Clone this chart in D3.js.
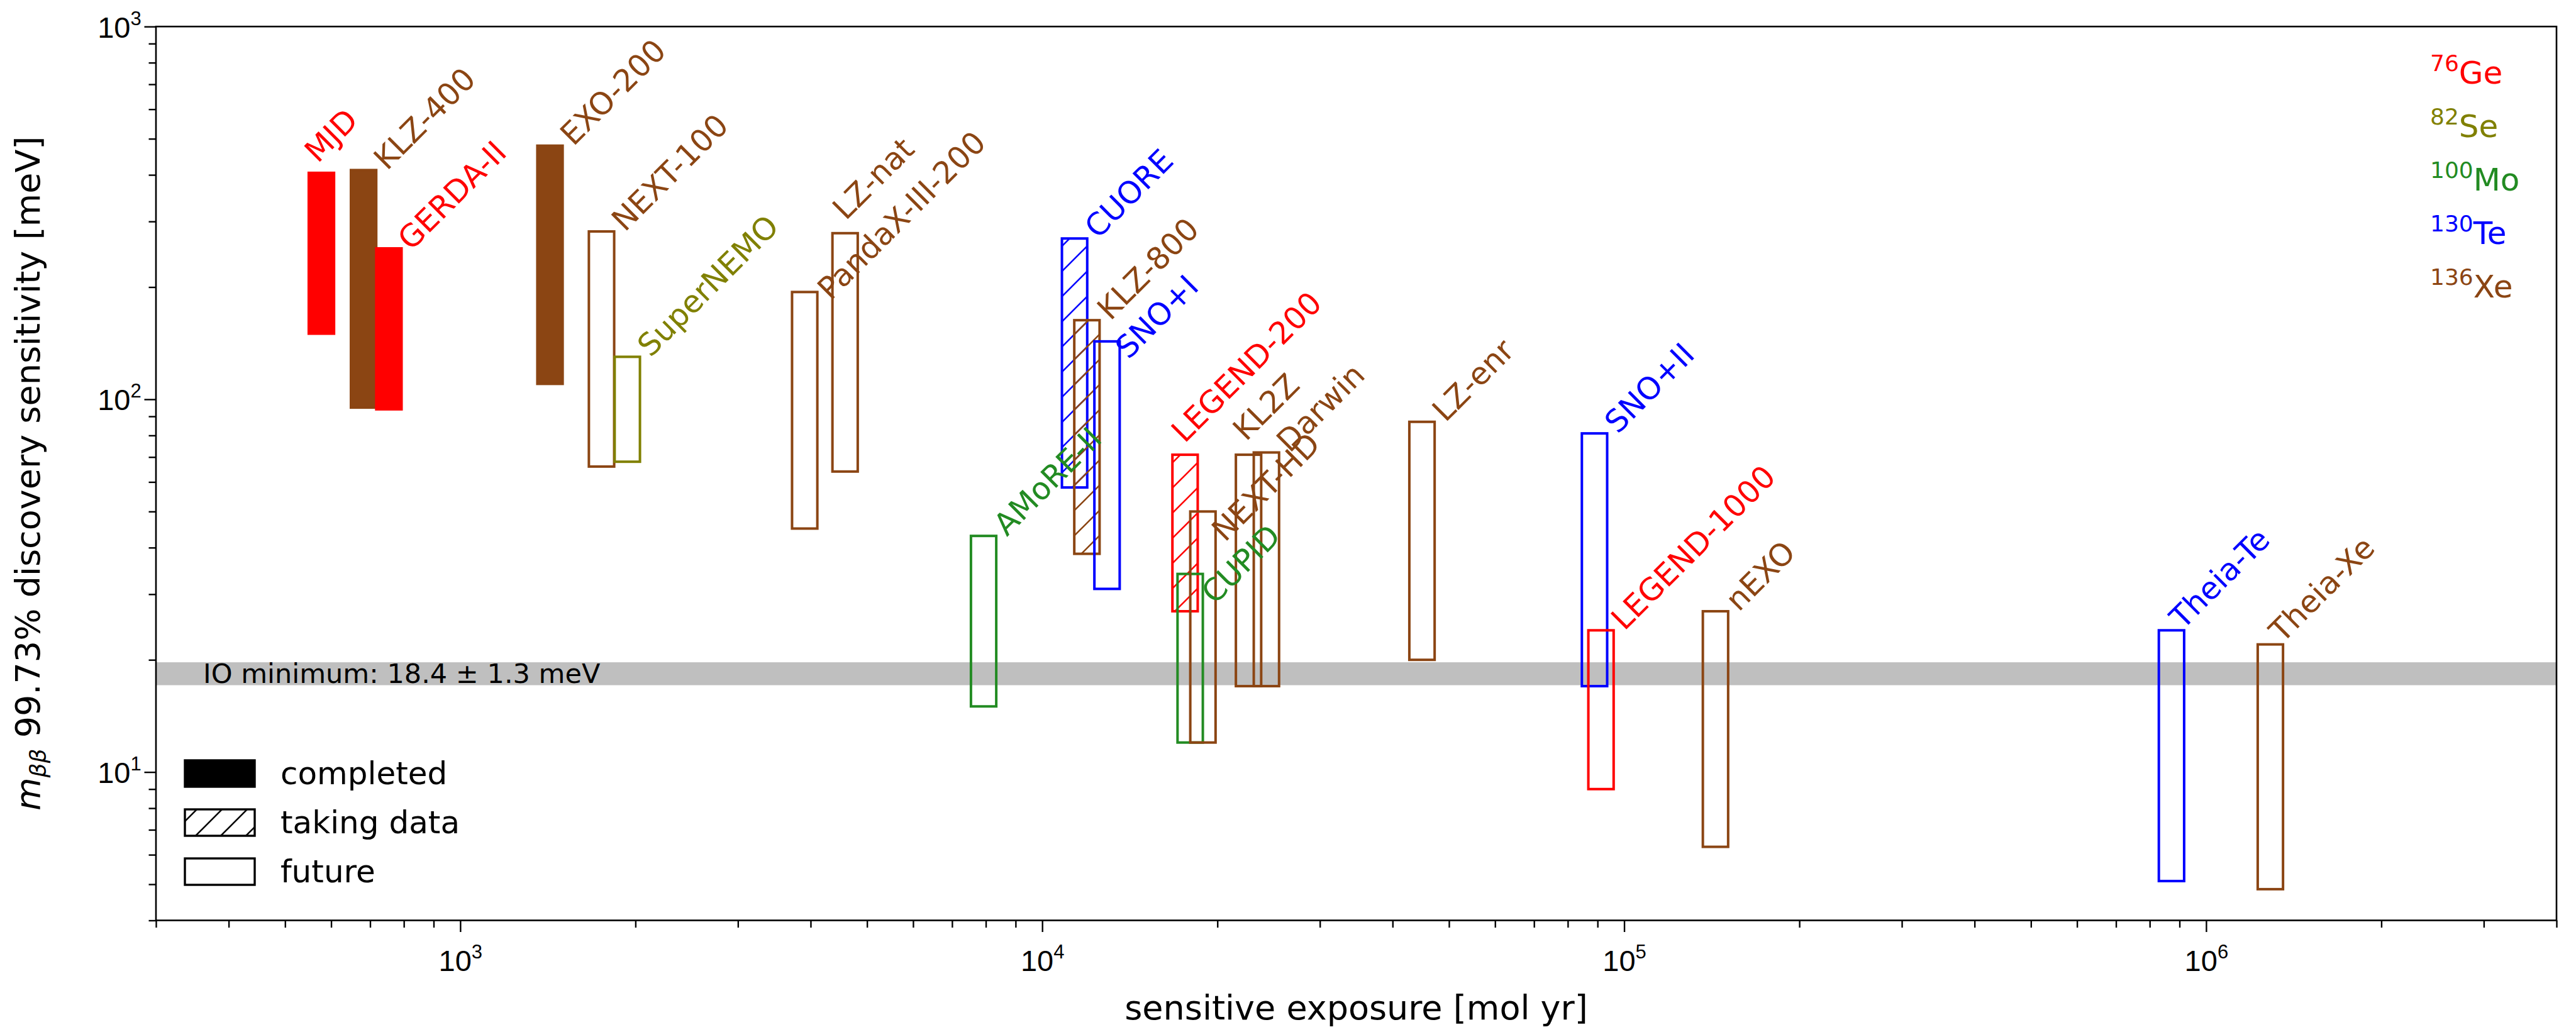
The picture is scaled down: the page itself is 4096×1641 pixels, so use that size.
<!DOCTYPE html>
<html><head><meta charset="utf-8">
<script src="https://cdn.jsdelivr.net/npm/d3@7"></script>
<style>html,body{margin:0;padding:0;background:#fff}svg{display:block}</style>
</head><body>
<script>
// ---------------- data ----------------
const experiments = ["MJD","KLZ-400","GERDA-II","EXO-200","NEXT-100","SuperNEMO","PandaX-III-200","LZ-nat",
  "CUORE","KLZ-800","SNO+I","AMoRE-II","LEGEND-200","CUPID","NEXT-HD","KL2Z","Darwin","LZ-enr",
  "SNO+II","LEGEND-1000","nEXO","Theia-Te","Theia-Xe"];
const isotopeOf = ["Ge","Xe","Ge","Xe","Xe","Se","Xe","Xe","Te","Xe","Te","Mo","Ge","Mo","Xe","Xe","Xe","Xe",
  "Te","Ge","Xe","Te","Xe"];
const status = ["completed","completed","completed","completed","future","future","future","future",
  "taking data","taking data","future","future","taking data","future","future","future","future","future",
  "future","future","future","future","future"];
const exposure = [578, 683, 755, 1428, 1751, 1939, 3912, 4590, 11380, 11950, 12940, 7940, 17620, 17980, 18910,
  22650, 24310, 44990, 89040, 91350, 143700, 873000, 1291000];
const sensLow  = [150, 95, 94, 110, 66, 68, 45, 64, 58, 38.5, 31, 15, 27, 12, 12, 17, 17, 20, 17, 9, 6.3, 5.1, 4.85];
const sensHigh = [405, 412, 254, 479, 282, 130, 194, 279, 270, 163, 143, 43, 71, 34, 50, 71, 72, 87, 81, 24, 27, 24, 22];

const isotopes = ["Ge","Se","Mo","Te","Xe"];
const isotopeMass = ["76","82","100","130","136"];
const statusNames = ["completed","taking data","future"];
const ioMinimum = 18.4, ioError = 1.3;
const ioText = "IO minimum: 18.4 \u00b1 1.3 meV";
const xMajorTicks = [1e3, 1e4, 1e5, 1e6];
const xTickExponents = ["3","4","5","6"];
const yMajorTicks = [10, 100, 1000];
const yTickExponents = ["1","2","3"];
const xDomain = [300, 4e6];
const yDomain = [4, 1000];

// ---------------- styles ----------------
const W = 4096, H = 1641;
const FONT = "DejaVu Sans";
const colorOf = {Ge:"#ff0000", Se:"#808000", Mo:"#228b22", Te:"#0000ff", Xe:"#8b4513"};
const plot = {left:248, right:4065, top:42.2, bottom:1463.5};
const barHalf = 0.05;           // bar spans exposure*(1-0.05) .. exposure*(1+0.05)
const lw = 4;
// label nudges (px) relative to bar right edge / top
const defaultNudge = [17, 2];
const labelNudge = {
  "MJD":[-26,-14], "LZ-nat":[-19,-19], "LEGEND-200":[-21,-17], "KL2Z":[-24,-20],
  "PandaX-III-200":[21,15], "SNO+I":[14,30], "CUPID":[19,50], "NEXT-HD":[15,50],
  "Theia-Te":[-2,0], "Theia-Xe":[-1,-1], "GERDA-II":[15,5]
};

const svg = d3.select("body").append("svg").attr("width", W).attr("height", H)
  .attr("font-family", FONT);

const x = d3.scaleLog().domain(xDomain).range([plot.left, plot.right]);
const y = d3.scaleLog().domain(yDomain).range([plot.bottom, plot.top]);

// hatch patterns
const defs = svg.append("defs");
const hs = 40;
function hatch(id, col){
  const p = defs.append("pattern").attr("id", id).attr("patternUnits","userSpaceOnUse")
    .attr("width", hs).attr("height", hs);
  p.append("path").attr("d", `M0,${hs} L${hs},0 M${-hs/2},${hs/2} L${hs/2},${-hs/2} M${hs/2},${hs*1.5} L${hs*1.5},${hs/2}`)
    .attr("stroke", col).attr("stroke-width", 2.6).attr("fill","none");
}
Object.entries(colorOf).forEach(([k,c]) => hatch("h-"+k, c));
hatch("h-black", "#000");

// clip
defs.append("clipPath").attr("id","clip").append("rect")
  .attr("x", plot.left).attr("y", plot.top).attr("width", plot.right-plot.left).attr("height", plot.bottom-plot.top);

// IO band
const plotG = svg.append("g").attr("clip-path","url(#clip)");
plotG.append("rect")
  .attr("x", plot.left).attr("width", plot.right-plot.left)
  .attr("y", y(ioMinimum+ioError)).attr("height", y(ioMinimum-ioError)-y(ioMinimum+ioError))
  .attr("fill", "#bfbfbf");
svg.append("text").attr("x", 323).attr("y", y(ioMinimum)+15).attr("font-size", 43).attr("fill","#000")
  .text(ioText);

// bars
const rows = experiments.map((n,i)=>({name:n, iso:isotopeOf[i], st:status[i], e:exposure[i], lo:sensLow[i], hi:sensHigh[i]}));
plotG.selectAll("rect.bar").data(rows).enter().append("rect").attr("class","bar")
  .attr("x", d => x(d.e*(1-barHalf)))
  .attr("width", d => x(d.e*(1+barHalf)) - x(d.e*(1-barHalf)))
  .attr("y", d => y(d.hi))
  .attr("height", d => y(d.lo) - y(d.hi))
  .attr("fill", d => d.st==="completed" ? colorOf[d.iso] : (d.st==="taking data" ? `url(#h-${d.iso})` : "none"))
  .attr("stroke", d => colorOf[d.iso]).attr("stroke-width", lw);

// labels
svg.selectAll("text.lab").data(rows).enter().append("text").attr("class","lab")
  .attr("transform", d => {
    const nd = labelNudge[d.name] || defaultNudge;
    return `translate(${x(d.e*(1+barHalf)) + nd[0]},${y(d.hi) + nd[1]}) rotate(-45)`;
  })
  .attr("font-size", 49).attr("fill", d => colorOf[d.iso]).text(d => d.name);

// axes
const tickW = 2.4;
const xAll = x.ticks();
const xMinor = xAll.filter(v => !xMajorTicks.includes(v));
const gx = svg.append("g").attr("transform", `translate(0,${plot.bottom})`);
gx.append("g").call(d3.axisBottom(x).tickValues(xMinor).tickSize(11.5).tickFormat(""));
const gxM = gx.append("g").call(d3.axisBottom(x).tickValues(xMajorTicks).tickSize(18.5).tickFormat(""));
gxM.selectAll(".tick").each(function(d,i){
  const t = d3.select(this).append("text").attr("y", 80).attr("text-anchor","middle")
    .attr("font-size", 47).attr("fill","#000");
  t.append("tspan").text("10");
  t.append("tspan").attr("font-size", 31).attr("dy", -20).text(xTickExponents[i]);
});
const yAll = y.ticks();
const yMinor = yAll.filter(v => !yMajorTicks.includes(v));
const gy = svg.append("g").attr("transform", `translate(${plot.left},0)`);
gy.append("g").call(d3.axisLeft(y).tickValues(yMinor).tickSize(11.5).tickFormat(""));
const gyM = gy.append("g").call(d3.axisLeft(y).tickValues(yMajorTicks).tickSize(18.5).tickFormat(""));
gyM.selectAll(".tick").each(function(d,i){
  const t = d3.select(this).append("text").attr("x", -58).attr("y", 17).attr("text-anchor","middle")
    .attr("font-size", 47).attr("fill","#000");
  t.append("tspan").text("10");
  t.append("tspan").attr("font-size", 31).attr("dy", -20).text(yTickExponents[i]);
});
svg.selectAll(".domain").remove();
svg.selectAll(".tick line").attr("stroke","#000").attr("stroke-width", tickW);

// frame
svg.append("rect").attr("x", plot.left).attr("y", plot.top)
  .attr("width", plot.right-plot.left).attr("height", plot.bottom-plot.top)
  .attr("fill","none").attr("stroke","#000").attr("stroke-width", 2.6);

// axis labels
svg.append("text").attr("x", (plot.left+plot.right)/2).attr("y", 1621).attr("text-anchor","middle")
  .attr("font-size", 54).attr("fill","#000").text("sensitive exposure [mol yr]");
const yl = svg.append("text").attr("transform", `translate(63,${(plot.top+plot.bottom)/2}) rotate(-90)`)
  .attr("text-anchor","middle").attr("font-size", 54).attr("fill","#000");
yl.append("tspan").attr("font-style","italic").text("m");
yl.append("tspan").attr("font-style","italic").attr("font-size", 36).attr("dy", 10).text("\u03b2\u03b2");
yl.append("tspan").attr("dy", -10).text(" 99.73% discovery sensitivity [meV]");

// isotope legend
isotopes.forEach((iso,i) => {
  const t = svg.append("text").attr("x", 3864).attr("y", 132.5 + i*85.2).attr("font-size", 50)
    .attr("fill", colorOf[iso]);
  t.append("tspan").attr("font-size", 36).attr("dy", -20).text(isotopeMass[i]);
  t.append("tspan").attr("dy", 20).text(iso);
});

// status legend
statusNames.forEach((s,i) => {
  const yc = 1230 + i*78;
  svg.append("rect").attr("x", 294).attr("y", yc-21).attr("width", 111).attr("height", 42)
    .attr("fill", i===0 ? "#000" : (i===1 ? "url(#h-black)" : "none"))
    .attr("stroke","#000").attr("stroke-width", 3.4);
  svg.append("text").attr("x", 446).attr("y", yc+17).attr("font-size", 50).attr("fill","#000").text(s);
});
</script>
</body></html>
